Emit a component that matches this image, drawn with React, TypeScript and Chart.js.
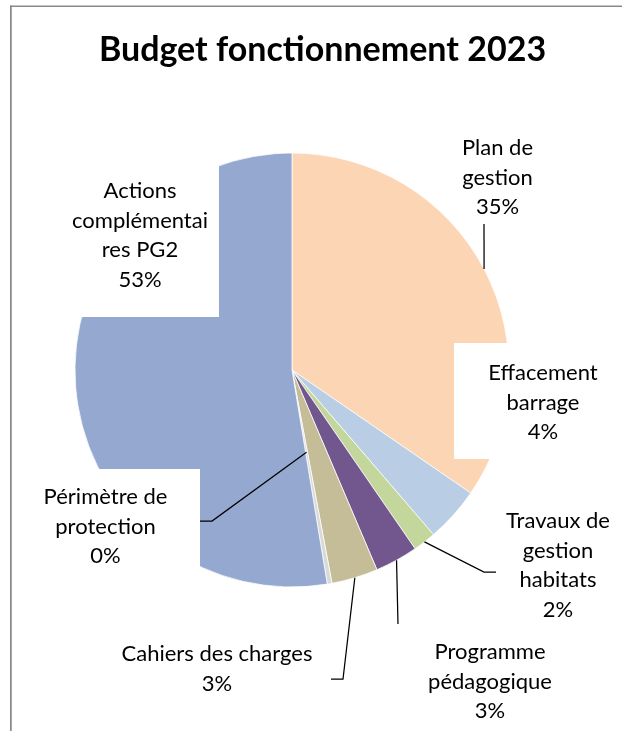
import React, { useEffect, useRef } from 'react';
import { Chart, registerables } from 'chart.js';

Chart.register(...registerables);

// ---- data ----
const titleText = 'Budget fonctionnement 2023';
const categories = [
  'Plan de gestion',
  'Effacement barrage',
  'Travaux de gestion habitats',
  'Programme pédagogique',
  'Cahiers des charges',
  'Périmètre de protection',
  'Actions complémentaires PG2',
];
const budgetShares = [34.6, 4.1, 1.7, 3.2, 3.45, 0.35, 52.6];
const sliceColors = ['#FCD5B5', '#B9CDE5', '#C3D69B', '#72578F', '#C4BD97', '#D9D9D9', '#95A9D0'];
const labelLines = [
  ['Plan de', 'gestion'],
  ['Effacement', 'barrage'],
  ['Travaux de', 'gestion', 'habitats'],
  ['Programme', 'pédagogique'],
  ['Cahiers des charges'],
  ['Périmètre de', 'protection'],
  ['Actions', 'complémentai', 'res PG2'],
];

// ---- label layout (positions of the data-label boxes, Excel style) ----
type LabelBox = {
  box: [number, number, number, number]; // left, top, right, bottom
  cx: number;
  baseline: number;
  leader: [number, number][] | null;
  anchorFrac: number;
};
const labelLayout: LabelBox[] = [
  { box: [455, 126, 540, 224], cx: 497.5, baseline: 155, leader: [[484, 224]], anchorFrac: 1 },
  { box: [454, 343, 632, 459], cx: 543, baseline: 380, leader: null, anchorFrac: 1 },
  { box: [496, 500, 622, 625], cx: 558, baseline: 528, leader: [[484, 572], [496, 572]], anchorFrac: 1 },
  { box: [425, 624, 556, 731], cx: 490, baseline: 659, leader: [[398, 624]], anchorFrac: 1 },
  { box: [103, 632, 331, 700], cx: 217, baseline: 661, leader: [[343, 679], [331, 679]], anchorFrac: 1 },
  { box: [11, 469, 200, 585], cx: 105.5, baseline: 504, leader: [[212, 521], [200, 521]], anchorFrac: 0.385 },
  { box: [61, 157, 219, 317], cx: 140, baseline: 198, leader: null, anchorFrac: 1 },
];
const LINE_GAP = 29.5;
const LABEL_FONT = '22px Lato, "Open Sans", sans-serif';
const TITLE_FONT = 'bold 34px Lato, "Open Sans", sans-serif';

const framePlugin = {
  id: 'frame',
  beforeDraw(chart: any) {
    const ctx = chart.ctx as CanvasRenderingContext2D;
    ctx.save();
    ctx.fillStyle = '#ffffff';
    ctx.fillRect(0, 0, chart.width, chart.height);
    ctx.restore();
  },
  afterDraw(chart: any) {
    const ctx = chart.ctx as CanvasRenderingContext2D;
    ctx.save();
    ctx.fillStyle = '#8a8a8a';
    ctx.fillRect(10, 5.5, chart.width - 10, 1.5);
    ctx.fillRect(10, 5.5, 1.75, chart.height - 5.5);
    ctx.fillStyle = '#000000';
    ctx.font = TITLE_FONT;
    ctx.textAlign = 'center';
    ctx.textBaseline = 'alphabetic';
    ctx.fillText(titleText, 322.5, 61);
    ctx.restore();
  },
};

const labelPlugin = {
  id: 'excelLabels',
  afterDatasetsDraw(chart: any) {
    const ctx = chart.ctx as CanvasRenderingContext2D;
    const meta = chart.getDatasetMeta(0);
    const data = chart.data.datasets[0].data as number[];
    const total = data.reduce((a, b) => a + b, 0);
    ctx.save();
    // leader lines
    ctx.strokeStyle = '#000000';
    ctx.lineWidth = 1.25;
    meta.data.forEach((arc: any, i: number) => {
      const lay = labelLayout[i];
      if (!lay.leader) return;
      const mid = (arc.startAngle + arc.endAngle) / 2;
      const r = arc.outerRadius * lay.anchorFrac;
      ctx.beginPath();
      ctx.moveTo(arc.x + Math.cos(mid) * r, arc.y + Math.sin(mid) * r);
      lay.leader.forEach(([px, py]) => ctx.lineTo(px, py));
      ctx.stroke();
    });
    // label boxes
    ctx.fillStyle = '#ffffff';
    labelLayout.forEach((lay) => {
      const [l, t, r, b] = lay.box;
      ctx.fillRect(l, t, r - l, b - t);
    });
    // label texts
    ctx.fillStyle = '#000000';
    ctx.font = LABEL_FONT;
    ctx.textAlign = 'center';
    ctx.textBaseline = 'alphabetic';
    labelLayout.forEach((lay, i) => {
      const pct = Math.round((data[i] / total) * 100) + '%';
      const lines = [...labelLines[i], pct];
      lines.forEach((s, k) => ctx.fillText(s, lay.cx, lay.baseline + k * LINE_GAP));
    });
    ctx.restore();
  },
};

export default function App() {
  const ref = useRef<HTMLCanvasElement>(null);
  useEffect(() => {
    document.body.style.margin = '0';
    const canvas = ref.current!;
    const chart = new Chart(canvas, {
      type: 'pie',
      data: {
        labels: categories,
        datasets: [
          {
            data: budgetShares,
            backgroundColor: sliceColors,
            borderColor: '#ffffff',
            borderWidth: 0.75,
            radius: 217,
          } as any,
        ],
      },
      options: {
        responsive: false,
        animation: false,
        devicePixelRatio: 1,
        layout: { padding: { left: 75, top: 153, right: 113, bottom: 144 } },
        plugins: {
          legend: { display: false },
          tooltip: { enabled: false },
          title: { display: false },
        },
      },
      plugins: [framePlugin, labelPlugin],
    });
    return () => chart.destroy();
  }, []);
  return <canvas ref={ref} width={622} height={731} style={{ display: 'block' }} />;
}
